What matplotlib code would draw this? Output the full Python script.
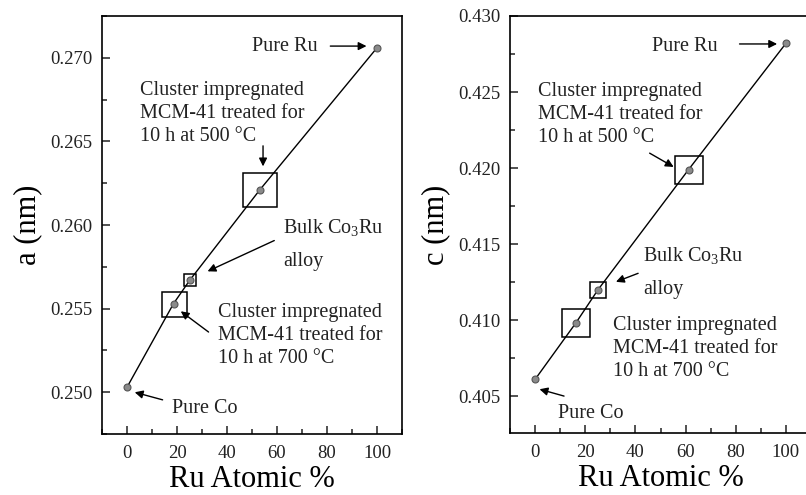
import matplotlib.pyplot as plt
from matplotlib.ticker import MultipleLocator

plt.rcParams['font.family'] = 'Liberation Serif'
plt.rcParams['mathtext.fontset'] = 'custom'
plt.rcParams['mathtext.rm'] = 'Liberation Serif'
plt.rcParams['mathtext.it'] = 'Liberation Serif:italic'

# Ru atomic % vs lattice parameters (pure Co, 700 C, bulk Co3Ru, 500 C, pure Ru)
ru_a = [0, 18.6, 25.1, 53.1, 100]
a_nm = [0.2503, 0.2553, 0.2567, 0.2621, 0.2706]
ru_c = [0, 16.2, 25.1, 61.2, 100]
c_nm = [0.4061, 0.4098, 0.4120, 0.4199, 0.4282]

# boxed points: indices into the series above
boxed = [1, 2, 3]

fig = plt.figure(figsize=(8.06, 4.95), dpi=100)
ax1 = fig.add_axes([0.1266, 0.1232, 0.3722, 0.8445])
ax2 = fig.add_axes([0.6328, 0.1246, 0.3734, 0.8431])

txt = dict(fontsize=14.5, color='#222222')
arr = dict(arrowstyle='-|>', color='black', lw=1.0, mutation_scale=12)


def style(ax, ylim, ymaj, ymin, ylabel):
    ax.set_xlim(-10, 110)
    ax.set_ylim(*ylim)
    ax.xaxis.set_major_locator(MultipleLocator(20))
    ax.xaxis.set_minor_locator(MultipleLocator(10))
    ax.yaxis.set_major_locator(MultipleLocator(ymaj))
    ax.yaxis.set_minor_locator(MultipleLocator(ymin))
    ax.tick_params(which='both', direction='in', top=False, right=False,
                   labelsize=13.5, width=1.1, colors='#222222')
    ax.tick_params(which='major', length=6)
    ax.tick_params(which='minor', length=3.5)
    ax.tick_params(axis='x', pad=8)
    ax.tick_params(axis='y', pad=7)
    ax.yaxis.set_major_formatter(plt.FormatStrFormatter('%.3f'))
    for s in ax.spines.values():
        s.set_linewidth(1.2)
    ax.set_xlabel('Ru Atomic %', fontsize=22, labelpad=2)
    ax.set_ylabel(ylabel, fontsize=22, labelpad=6)


def note(ax, s, xy, xytext=None, **kw):
    if xytext is None:
        ax.text(xy[0], xy[1], s, **txt, **kw)
    else:
        ax.annotate('', xy=xy, xytext=xytext, arrowprops=arr)


# left panel
ax1.plot(ru_a, a_nm, color='black', lw=1.0, zorder=2)
ax1.plot(ru_a, a_nm, 'o', ms=5, mfc='#8a8a8a', mec='#555555', mew=0.8, zorder=3)
for i, ms in zip(boxed, [18, 8, 24]):
    ax1.plot(ru_a[i], a_nm[i], 's', ms=ms, mfc='none', mec='black', mew=1.1, zorder=4)
style(ax1, (0.2475, 0.2725), 0.005, 0.0025, 'a (nm)')

note(ax1, 'Pure Ru', (76.2, 0.2707), ha='right', va='center')
note(ax1, '', (96.9, 0.2707), (80.2, 0.2707))
note(ax1, 'Cluster impregnated\nMCM-41 treated for\n10 h at 500 \u00b0C', (5.3, 0.26668),
     va='center', ha='left', linespacing=1.3)
note(ax1, '', (54.4, 0.26334), (54.4, 0.2649))
note(ax1, 'Bulk Co$_3$Ru', (62.4, 0.25986), va='center')
note(ax1, 'alloy', (62.4, 0.25784), va='center')
note(ax1, '', (31.2, 0.25716), (59.9, 0.25914))
note(ax1, 'Cluster impregnated\nMCM-41 treated for\n10 h at 700 \u00b0C', (36.5, 0.2534),
     va='center', ha='left', linespacing=1.3)
note(ax1, '', (20.6, 0.25494), (33.5, 0.2535))
note(ax1, 'Pure Co', (17.9, 0.24904), va='center')
note(ax1, '', (2.0, 0.25004), (15.3, 0.2495))

# right panel
ax2.plot(ru_c, c_nm, color='black', lw=1.0, zorder=2)
ax2.plot(ru_c, c_nm, 'o', ms=5, mfc='#8a8a8a', mec='#555555', mew=0.8, zorder=3)
for i, ms in zip(boxed, [20, 11, 20]):
    ax2.plot(ru_c[i], c_nm[i], 's', ms=ms, mfc='none', mec='black', mew=1.1, zorder=4)
style(ax2, (0.40255, 0.430), 0.005, 0.0025, 'c (nm)')

note(ax2, 'Pure Ru', (72.9, 0.42798), ha='right', va='center')
note(ax2, '', (97.6, 0.42816), (80.4, 0.42816))
note(ax2, 'Cluster impregnated\nMCM-41 treated for\n10 h at 500 \u00b0C', (1.3, 0.42353),
     va='center', ha='left', linespacing=1.3)
note(ax2, '', (56.2, 0.41998), (44.7, 0.42107))
note(ax2, 'Bulk Co$_3$Ru', (43.1, 0.41427), va='center')
note(ax2, 'alloy', (43.1, 0.41202), va='center')
note(ax2, '', (31.2, 0.41245), (42.1, 0.41314))
note(ax2, 'Cluster impregnated\nMCM-41 treated for\n10 h at 700 \u00b0C', (31.2, 0.40813),
     va='center', ha='left', linespacing=1.3)
note(ax2, 'Pure Co', (9.3, 0.40386), va='center')
note(ax2, '', (0.7, 0.4055), (12.6, 0.40495))

fig.savefig('out.png', dpi=100)
